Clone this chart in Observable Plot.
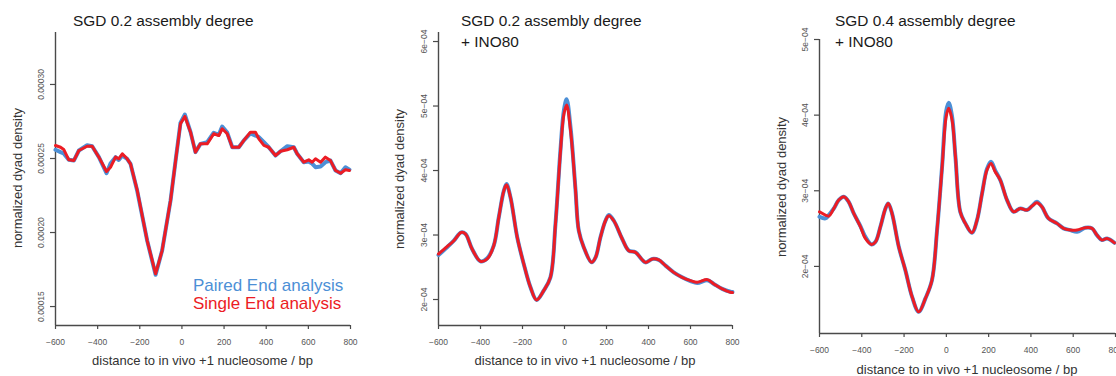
<!DOCTYPE html>
<html><head><meta charset="utf-8">
<script src="https://cdn.jsdelivr.net/npm/d3@7"></script>
<script src="https://cdn.jsdelivr.net/npm/@observablehq/plot@0.6"></script>
<style>
html,body{margin:0;padding:0;background:#fff;}
#root{position:relative;width:1116px;height:376px;overflow:hidden;font-family:"Liberation Sans",Arial,Helvetica,sans-serif;}
.abs{position:absolute;white-space:nowrap;line-height:1;}
.panel{position:absolute;top:0;}
.panel svg{max-width:none !important;}
.title{font-size:15.4px;color:#1a1a1a;}
.xlab{font-size:13px;color:#333;transform:translateX(-50%);}
.ylab{font-size:13px;color:#333;transform:translate(-50%,-50%) rotate(-90deg);}
.leg{font-size:17px;}
</style></head><body><div id="root"></div>
<script>
// ---------- data ----------
const xTicks = [-600, -400, -200, 0, 200, 400, 600, 800];
const seriesNames = ["Paired End analysis", "Single End analysis"];

// Panel 1: SGD 0.2 assembly degree
const p1Titles = ["SGD 0.2 assembly degree"];
const p1YTicks = [0.00015, 0.00020, 0.00025, 0.00030];
const p1YLabels = ["0.00015", "0.00020", "0.00025", "0.00030"];
const p1Bp = [-600,-576,-561,-537,-513,-489,-450,-426,-394,-358,-339,-315,-300,-283,-260,-244,-212,-165,-125,-94,-54,-30,-7,14,41,64,88,120,151,175,191,215,239,270,294,325,349,365,389,412,444,468,500,531,547,578,602,618,634,658,681,705,729,753,776,795];
const p1Single = [2.588e-4,2.576e-4,2.561e-4,2.491e-4,2.486e-4,2.554e-4,2.583e-4,2.583e-4,2.509e-4,2.412e-4,2.441e-4,2.509e-4,2.498e-4,2.532e-4,2.498e-4,2.464e-4,2.284e-4,1.946e-4,1.721e-4,1.878e-4,2.216e-4,2.486e-4,2.734e-4,2.784e-4,2.678e-4,2.543e-4,2.599e-4,2.599e-4,2.667e-4,2.655e-4,2.701e-4,2.667e-4,2.576e-4,2.576e-4,2.622e-4,2.678e-4,2.678e-4,2.633e-4,2.588e-4,2.576e-4,2.520e-4,2.549e-4,2.559e-4,2.576e-4,2.532e-4,2.475e-4,2.491e-4,2.475e-4,2.498e-4,2.475e-4,2.509e-4,2.486e-4,2.419e-4,2.401e-4,2.424e-4,2.419e-4];
const p1Paired = [2.559e-4,2.543e-4,2.534e-4,2.491e-4,2.486e-4,2.554e-4,2.590e-4,2.583e-4,2.509e-4,2.401e-4,2.466e-4,2.509e-4,2.490e-4,2.520e-4,2.498e-4,2.464e-4,2.280e-4,1.946e-4,1.715e-4,1.878e-4,2.216e-4,2.486e-4,2.740e-4,2.797e-4,2.678e-4,2.543e-4,2.599e-4,2.610e-4,2.674e-4,2.660e-4,2.716e-4,2.675e-4,2.576e-4,2.576e-4,2.622e-4,2.669e-4,2.655e-4,2.644e-4,2.610e-4,2.576e-4,2.520e-4,2.549e-4,2.583e-4,2.576e-4,2.532e-4,2.475e-4,2.480e-4,2.465e-4,2.441e-4,2.446e-4,2.475e-4,2.486e-4,2.419e-4,2.401e-4,2.441e-4,2.425e-4];

// Panel 2: SGD 0.2 assembly degree + INO80
const p2Titles = ["SGD 0.2 assembly degree", "+ INO80"];
const p2YTicks = [2e-4, 3e-4, 4e-4, 5e-4, 6e-4];
const p2YLabels = ["2e\u221204", "3e\u221204", "4e\u221204", "5e\u221204", "6e\u221204"];
const p2Bp = [-600,-559,-527,-492,-471,-440,-400,-368,-337,-313,-289,-276,-257,-225,-194,-162,-133,-99,-67,-43,-19,-3,10,29,52,68,92,129,148,171,195,211,235,275,306,338,386,418,449,481,520,560,600,632,680,711,751,790,800];
const p2Single = [2.706e-4,2.819e-4,2.912e-4,3.040e-4,3.015e-4,2.783e-4,2.592e-4,2.629e-4,2.834e-4,3.272e-4,3.685e-4,3.778e-4,3.582e-4,2.963e-4,2.551e-4,2.189e-4,1.994e-4,2.138e-4,2.344e-4,3.170e-4,4.304e-4,4.872e-4,5.016e-4,4.614e-4,3.720e-4,3.067e-4,2.808e-4,2.576e-4,2.653e-4,2.963e-4,3.221e-4,3.299e-4,3.221e-4,2.938e-4,2.757e-4,2.731e-4,2.576e-4,2.629e-4,2.613e-4,2.525e-4,2.421e-4,2.344e-4,2.293e-4,2.267e-4,2.308e-4,2.242e-4,2.165e-4,2.112e-4,2.107e-4];
const p2Paired = [2.690e-4,2.810e-4,2.912e-4,3.040e-4,3.015e-4,2.783e-4,2.592e-4,2.640e-4,2.834e-4,3.272e-4,3.685e-4,3.790e-4,3.582e-4,2.963e-4,2.551e-4,2.189e-4,1.994e-4,2.138e-4,2.344e-4,3.170e-4,4.330e-4,4.930e-4,5.104e-4,4.660e-4,3.720e-4,3.067e-4,2.808e-4,2.576e-4,2.653e-4,2.963e-4,3.221e-4,3.310e-4,3.221e-4,2.938e-4,2.757e-4,2.731e-4,2.576e-4,2.629e-4,2.613e-4,2.525e-4,2.421e-4,2.344e-4,2.285e-4,2.255e-4,2.300e-4,2.242e-4,2.165e-4,2.120e-4,2.115e-4];

// Panel 3: SGD 0.4 assembly degree + INO80
const p3Titles = ["SGD 0.4 assembly degree", "+ INO80"];
const p3YTicks = [2e-4, 3e-4, 4e-4, 5e-4];
const p3YLabels = ["2e\u221204", "3e\u221204", "4e\u221204", "5e\u221204"];
const p3Bp = [-600,-572,-556,-532,-509,-485,-462,-438,-406,-383,-354,-335,-312,-288,-275,-257,-225,-194,-162,-131,-99,-68,-44,-20,-1,11,27,43,66,90,121,145,169,192,211,231,255,287,318,350,381,405,428,452,483,523,554,586,618,657,689,712,736,760,795];
const p3Single = [2.722e-4,2.679e-4,2.665e-4,2.767e-4,2.877e-4,2.921e-4,2.854e-4,2.701e-4,2.524e-4,2.370e-4,2.291e-4,2.325e-4,2.524e-4,2.767e-4,2.833e-4,2.701e-4,2.259e-4,1.951e-4,1.598e-4,1.399e-4,1.577e-4,1.819e-4,2.480e-4,3.317e-4,3.979e-4,4.090e-4,3.935e-4,3.450e-4,2.718e-4,2.569e-4,2.444e-4,2.612e-4,2.966e-4,3.274e-4,3.362e-4,3.251e-4,3.142e-4,2.877e-4,2.722e-4,2.767e-4,2.745e-4,2.798e-4,2.841e-4,2.788e-4,2.635e-4,2.569e-4,2.503e-4,2.480e-4,2.480e-4,2.511e-4,2.503e-4,2.414e-4,2.348e-4,2.370e-4,2.312e-4];
const p3Paired = [2.656e-4,2.635e-4,2.680e-4,2.767e-4,2.877e-4,2.921e-4,2.854e-4,2.701e-4,2.530e-4,2.390e-4,2.291e-4,2.325e-4,2.524e-4,2.767e-4,2.833e-4,2.701e-4,2.259e-4,1.951e-4,1.598e-4,1.399e-4,1.577e-4,1.819e-4,2.480e-4,3.330e-4,4.050e-4,4.164e-4,3.980e-4,3.450e-4,2.718e-4,2.569e-4,2.444e-4,2.612e-4,2.966e-4,3.290e-4,3.384e-4,3.270e-4,3.142e-4,2.877e-4,2.722e-4,2.767e-4,2.745e-4,2.798e-4,2.855e-4,2.788e-4,2.635e-4,2.569e-4,2.503e-4,2.480e-4,2.458e-4,2.511e-4,2.503e-4,2.414e-4,2.348e-4,2.370e-4,2.312e-4];

// ---------- layout / style ----------
const BLUE = "#4c8fd6", RED = "#ec1c24", AXIS = "#4a4a4a", TICKTXT = "#555";
const FONT = '"Liberation Sans", Arial, Helvetica, sans-serif';
const xTitle = "distance to in vivo +1 nucleosome / bp";
const yTitle = "normalized dyad density";

const panels = [
  {left: 0, width: 372, mL: 55, mR: 22, mT: 32, mB: 51, yDomain: [1.372e-4, 3.351e-4],
   yTicks: p1YTicks, yLabels: p1YLabels, bp: p1Bp, paired: p1Paired, single: p1Single, curve: "linear",
   titles: p1Titles, titleLeft: 73, xTitleTop: 354, yTitleCx: 17.2, yTitleCy: 178, legend: true},
  {left: 380, width: 380, mL: 58, mR: 28, mT: 32, mB: 51, yDomain: [1.597e-4, 6.14e-4],
   yTicks: p2YTicks, yLabels: p2YLabels, bp: p2Bp, paired: p2Paired, single: p2Single, curve: "catmull-rom",
   titles: p2Titles, titleLeft: 461, xTitleTop: 354, yTitleCx: 398.5, yTitleCy: 179, legend: false},
  {left: 760, width: 380, mL: 59, mR: 25, mT: 39, mB: 43, yDomain: [1.113e-4, 5e-4],
   yTicks: p3YTicks, yLabels: p3YLabels, bp: p3Bp, paired: p3Paired, single: p3Single, curve: "catmull-rom",
   titles: p3Titles, titleLeft: 835, xTitleTop: 363, yTitleCx: 780.5, yTitleCy: 187, legend: false}
];

const root = document.getElementById("root");
function addText(cls, txt, style) {
  const d = document.createElement("div");
  d.className = "abs " + cls;
  d.textContent = txt;
  Object.assign(d.style, style);
  root.appendChild(d);
  return d;
}

for (const p of panels) {
  const pairedRows = p.bp.map((x, i) => ({x, y: p.paired[i], series: seriesNames[0]}));
  const singleRows = p.bp.map((x, i) => ({x, y: p.single[i], series: seriesNames[1]}));
  const chart = Plot.plot({
    width: p.width, height: 376,
    marginLeft: p.mL, marginRight: p.mR, marginTop: p.mT, marginBottom: p.mB,
    x: {domain: [-600, 800]},
    y: {domain: p.yDomain},
    style: {fontFamily: FONT, fontSize: "8.5px", background: "transparent", overflow: "visible", maxWidth: "none"},
    marks: [
      Plot.axisX({ticks: xTicks, tickSize: 4, tickPadding: 9, label: null, stroke: AXIS, strokeWidth: 1.2, fill: TICKTXT,
        tickFormat: d => d < 0 ? "\u2212" + Math.abs(d) : String(d)}),
      Plot.axisY({ticks: p.yTicks, tickSize: 5, tickPadding: 7, tickRotate: -90, label: null, stroke: AXIS, strokeWidth: 1.2, fill: TICKTXT,
        tickFormat: d => p.yLabels[p.yTicks.indexOf(d)]}),
      Plot.ruleX([-600], {stroke: AXIS, strokeWidth: 1.4}),
      Plot.ruleY([p.yDomain[0]], {stroke: AXIS, strokeWidth: 1.4}),
      Plot.line(pairedRows, {x: "x", y: "y", stroke: BLUE, strokeWidth: 4, curve: p.curve}),
      Plot.line(singleRows, {x: "x", y: "y", stroke: RED, strokeWidth: 3, curve: p.curve})
    ]
  });
  const wrap = document.createElement("div");
  wrap.className = "panel";
  wrap.style.left = p.left + "px";
  wrap.style.width = p.width + "px";
  wrap.style.height = "376px";
  wrap.appendChild(chart);
  root.appendChild(wrap);

  p.titles.forEach((t, i) => addText("title", t, {left: p.titleLeft + "px", top: (13 + i * 20.7) + "px"}));
  const axisCenter = p.left + p.mL + (p.width - p.mL - p.mR) / 2;
  addText("xlab", xTitle, {left: axisCenter + "px", top: p.xTitleTop + "px"});
  addText("ylab", yTitle, {left: p.yTitleCx + "px", top: p.yTitleCy + "px"});
  if (p.legend) {
    addText("leg", seriesNames[0], {left: "193px", top: "277.3px", color: BLUE});
    addText("leg", seriesNames[1], {left: "193px", top: "294.9px", color: RED});
  }
}
</script></body></html>
